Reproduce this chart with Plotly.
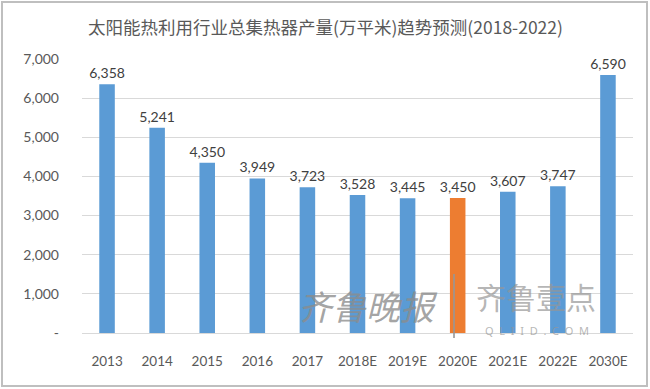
import plotly.graph_objects as go

categories = ["2013", "2014", "2015", "2016", "2017", "2018E", "2019E", "2020E", "2021E", "2022E", "2030E"]
values = [6358, 5241, 4350, 3949, 3723, 3528, 3445, 3450, 3607, 3747, 6590]
highlight = "2020E"
y_ticks = [0, 1000, 2000, 3000, 4000, 5000, 6000, 7000]
y_tick_labels = ["-", "1,000", "2,000", "3,000", "4,000", "5,000", "6,000", "7,000"]
title_text = "太阳能热利用行业总集热器产量(万平米)趋势预测(2018-2022)"

BLUE = "#5B9BD5"
ORANGE = "#ED7D31"
colors = [ORANGE if c == highlight else BLUE for c in categories]

W, H = 650, 389
L, R, T, B = 82, 17, 59, 56
pw, ph = W - L - R, H - T - B

def px_x(x):
    return (x - L) / pw

def px_y(y):
    return (H - B - y) / ph

font_num = "Lato, 'Noto Sans CJK SC', sans-serif"

fig = go.Figure()
fig.add_trace(go.Bar(
    x=categories, y=values,
    marker=dict(color=colors, line=dict(width=0)),
    text=[f"{v:,}" for v in values],
    textposition="outside",
    constraintext="none",
    textfont=dict(size=14, color="#404040", family=font_num),
    cliponaxis=False,
    hoverinfo="skip",
))

shapes = [
    dict(type="rect", xref="paper", yref="paper",
         x0=px_x(2), x1=px_x(647), y0=px_y(386), y1=px_y(2),
         line=dict(color="#BFBFBF", width=2), fillcolor="rgba(0,0,0,0)", layer="below"),
    # watermark divider
    dict(type="line", xref="paper", yref="paper",
         x0=px_x(454), x1=px_x(454), y0=px_y(338), y1=px_y(274),
         line=dict(color="rgba(150,150,150,0.8)", width=2)),
]

annotations = [
    dict(text=title_text, xref="paper", yref="paper", x=px_x(325), y=px_y(27),
         xanchor="center", yanchor="middle", showarrow=False,
         font=dict(size=17.5, color="#595959", family="'Noto Sans CJK SC', sans-serif")),
    # watermark
    dict(text="<i>齐鲁晚报</i>", xref="paper", yref="paper", x=px_x(368), y=px_y(305),
         xanchor="center", yanchor="middle", showarrow=False,
         font=dict(size=34, color="rgba(140,140,140,0.8)", family="'Noto Sans CJK SC', sans-serif")),
    dict(text="齐鲁壹点", xref="paper", yref="paper", x=px_x(536), y=px_y(296),
         xanchor="center", yanchor="middle", showarrow=False,
         font=dict(size=30, color="rgba(150,150,150,0.7)", family="'Noto Sans CJK SC', sans-serif")),
    dict(text="Q  L  I  I  D  .  C  O  M", xref="paper", yref="paper", x=px_x(537), y=px_y(330),
         xanchor="center", yanchor="middle", showarrow=False,
         font=dict(size=11, color="rgba(150,150,150,0.7)", family="'Noto Sans', sans-serif")),
]

fig.update_layout(
    width=W, height=H,
    margin=dict(l=L, r=R, t=T, b=B, pad=0),
    paper_bgcolor="white", plot_bgcolor="white",
    bargap=0.69,
    showlegend=False,
    shapes=shapes,
    annotations=annotations,
    xaxis=dict(
        type="category", automargin=False,
        showgrid=False, showline=True, linecolor="#D9D9D9", linewidth=1,
        ticks="", tickfont=dict(size=13.5, color="#595959", family=font_num),
        ticklabelstandoff=16,
    ),
    yaxis=dict(
        range=[0, 7000], automargin=False,
        tickvals=y_ticks, ticktext=y_tick_labels,
        showgrid=True, gridcolor="#D9D9D9", gridwidth=1,
        zeroline=False, showline=False, ticks="",
        tickfont=dict(size=14, color="#595959", family=font_num),
        ticklabelstandoff=22,
    ),
)

fig.write_html("out.html", config={"displayModeBar": False},
               post_script="document.body.style.margin='0';document.body.style.overflow='hidden';")
